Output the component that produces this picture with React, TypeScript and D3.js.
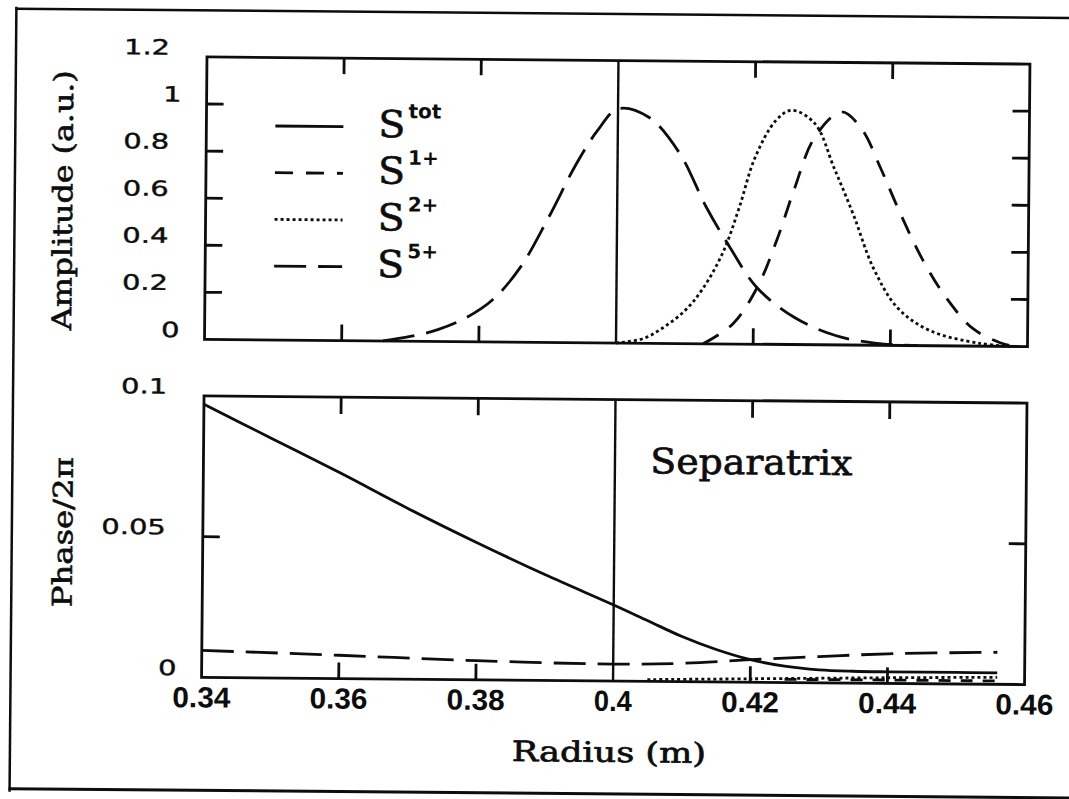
import React from 'react';
import * as d3 from 'd3';

// ---------- data ----------
const radiusTicks = [0.34, 0.36, 0.38, 0.4, 0.42, 0.44, 0.46];
const radiusTickLabels = ['0.34', '0.36', '0.38', '0.4', '0.42', '0.44', '0.46'];
const innerRadiusTicks = [0.36, 0.38, 0.42, 0.44];
const ampTicks = [0, 0.2, 0.4, 0.6, 0.8, 1, 1.2];
const ampTickLabels = ['0', '0.2', '0.4', '0.6', '0.8', '1', '1.2'];
const ampInnerTicks = [0.2, 0.4, 0.6, 0.8, 1];
const phaseTicks = [0, 0.05, 0.1];
const phaseTickLabels = ['0', '0.05', '0.1'];
const phaseInnerTicks = [0.05];
const separatrixRadius = 0.4;

// Amplitude (a.u.)
const s5AmpR = [0.366, 0.37, 0.374, 0.378, 0.382, 0.386, 0.39, 0.394, 0.397, 0.4, 0.4045, 0.409, 0.413, 0.4165, 0.4205, 0.426, 0.432, 0.438, 0.444];
const s5AmpV = [0, 0.02, 0.05, 0.1, 0.18, 0.32, 0.53, 0.76, 0.9, 0.995, 0.96, 0.81, 0.58, 0.41, 0.24, 0.115, 0.04, 0.008, 0];
const s2AmpR = [0.4, 0.404, 0.407, 0.41, 0.4125, 0.4155, 0.4178, 0.42, 0.423, 0.4253, 0.4287, 0.4316, 0.4345, 0.4374, 0.441, 0.4457, 0.453, 0.458];
const s2AmpV = [0, 0.02, 0.07, 0.14, 0.23, 0.39, 0.58, 0.79, 0.95, 0.995, 0.94, 0.75, 0.55, 0.33, 0.16, 0.065, 0.012, 0];
const s1AmpR = [0.4127, 0.417, 0.4205, 0.4234, 0.4258, 0.4287, 0.4326, 0.4355, 0.4384, 0.4413, 0.4447, 0.4482, 0.452, 0.456, 0.458];
const s1AmpV = [0, 0.085, 0.24, 0.45, 0.66, 0.88, 0.99, 0.92, 0.75, 0.56, 0.36, 0.2, 0.075, 0.015, 0];

// Phase / 2pi
const totPhaseR = [0.34, 0.35, 0.36, 0.37, 0.38, 0.39, 0.4, 0.405, 0.41, 0.415, 0.42, 0.425, 0.43, 0.435, 0.44, 0.45, 0.456];
const totPhaseV = [0.097, 0.085, 0.073, 0.0605, 0.0487, 0.0375, 0.027, 0.0215, 0.016, 0.0115, 0.008, 0.0058, 0.0046, 0.0042, 0.0041, 0.0041, 0.0041];
const s5PhaseR = [0.34, 0.36, 0.38, 0.4, 0.41, 0.42, 0.43, 0.44, 0.456];
const s5PhaseV = [0.0096, 0.0083, 0.0068, 0.006, 0.0065, 0.008, 0.0093, 0.0105, 0.0114];
const s2PhaseR = [0.405, 0.42, 0.44, 0.456];
const s2PhaseV = [0.0006, 0.0012, 0.002, 0.0025];
const s1PhaseR = [0.425, 0.44, 0.456];
const s1PhaseV = [0.0011, 0.0012, 0.0012];

const legendNames = ['tot', '1+', '2+', '5+'];
const legendDash = ['none', '18 13', '3 3', '32 12'];

// ---------- layout ----------
const W = 1069, H = 799;
const X0 = 204, X1 = 1027;
const T0 = 60.5, T1 = 343;
const B0 = 399.5, B1 = 681;
const INK = '#0d0d0d';

const x = d3.scaleLinear().domain([0.34, 0.46]).range([X0, X1]);
const yA = d3.scaleLinear().domain([0, 1.2]).range([T1, T0]);
const yP = d3.scaleLinear().domain([0, 0.1]).range([B1, B0]);

function path(rs: number[], vs: number[], y: d3.ScaleLinear<number, number>) {
  const g = d3.line<number>().x((_, i) => x(rs[i])).y((v) => y(Math.max(v, 0))).curve(d3.curveCatmullRom.alpha(0.5));
  return g(vs) || '';
}

function yLabelWidth(s: string) {
  let w = 0;
  for (const c of s) w += c === '.' ? 9 : 18.5;
  return w;
}

export default function App() {
  const sw = 2.8;
  const tickLen = 17;
  const yLabel = (labels: string[], ticks: number[], y: d3.ScaleLinear<number, number>) =>
    ticks.map((t, i) => {
      const s = labels[i];
      const right = s.includes('.') ? 167 : 179;
      return (
        <text key={'yl' + s + i} x={right} y={y(t) - 2} textAnchor="end"
          fontFamily="'DejaVu Sans', sans-serif" fontSize={21} fill={INK}
          stroke={INK} strokeWidth={0.4}
          textLength={yLabelWidth(s)} lengthAdjust="spacingAndGlyphs">{s}</text>
      );
    });
  const serif = "'DejaVu Serif', serif";

  return (
    <div style={{ position: 'absolute', left: 0, top: 0, width: W, height: H, background: '#fff' }}>
      <svg width={W} height={H} style={{ display: 'block' }}>
        <rect x={0} y={0} width={W} height={H} fill="#fff" />
        <g transform="rotate(0.5 616 400)">
          {/* outer frame */}
          <line x1={13} y1={12} x2={13} y2={797} stroke={INK} strokeWidth={2.5} />
          <line x1={12} y1={14} x2={1080} y2={14} stroke={INK} strokeWidth={2.5} />
          <line x1={12} y1={794} x2={1080} y2={794} stroke={INK} strokeWidth={3} />

          {/* ----- top panel ----- */}
          <rect x={X0} y={T0} width={X1 - X0} height={T1 - T0} fill="none" stroke={INK} strokeWidth={sw} />
          {ampInnerTicks.map((t) => (
            <g key={'at' + t}>
              <line x1={X0} x2={X0 + tickLen} y1={yA(t)} y2={yA(t)} stroke={INK} strokeWidth={sw} />
              <line x1={X1 - tickLen} x2={X1} y1={yA(t)} y2={yA(t)} stroke={INK} strokeWidth={sw} />
            </g>
          ))}
          {innerRadiusTicks.map((t) => (
            <g key={'rt' + t}>
              <line x1={x(t)} x2={x(t)} y1={T0} y2={T0 + 16} stroke={INK} strokeWidth={sw} />
              <line x1={x(t)} x2={x(t)} y1={T1} y2={T1 - 16} stroke={INK} strokeWidth={sw} />
            </g>
          ))}
          <line x1={x(separatrixRadius)} x2={x(separatrixRadius)} y1={T0} y2={T1} stroke={INK} strokeWidth={2.4} />
          {yLabel(ampTickLabels, ampTicks, yA)}

          <path d={path(s5AmpR, s5AmpV, yA)} fill="none" stroke={INK} strokeWidth={sw} strokeDasharray={legendDash[3]} />
          <path d={path(s2AmpR, s2AmpV, yA)} fill="none" stroke={INK} strokeWidth={sw} strokeDasharray={legendDash[2]} />
          <path d={path(s1AmpR, s1AmpV, yA)} fill="none" stroke={INK} strokeWidth={sw} strokeDasharray={legendDash[1]} />

          {/* legend */}
          {legendNames.map((n, i) => {
            const base = 139 + i * 46.7;
            return (
              <g key={'lg' + n}>
                <line x1={273} x2={341} y1={base - 10} y2={base - 10} stroke={INK} strokeWidth={sw}
                  strokeDasharray={legendDash[i] === 'none' ? undefined : legendDash[i]} />
                <text x={376} y={base} fontFamily={serif} fontSize={37} fill={INK}
                  stroke={INK} strokeWidth={0.6}
                  textLength={27} lengthAdjust="spacingAndGlyphs">S</text>
                <text x={406} y={base - 19} fontFamily="'DejaVu Sans', sans-serif" fontWeight="bold" fontSize={20} fill={INK}>{n}</text>
              </g>
            );
          })}

          <text transform="translate(61,205) rotate(-90)" textAnchor="middle"
            fontFamily={serif} fontSize={27} fill={INK} stroke={INK} strokeWidth={0.6} dy="0.35em"
            textLength={260} lengthAdjust="spacingAndGlyphs">Amplitude (a.u.)</text>

          {/* ----- bottom panel ----- */}
          <rect x={X0} y={B0} width={X1 - X0} height={B1 - B0} fill="none" stroke={INK} strokeWidth={sw} />
          {phaseInnerTicks.map((t) => (
            <g key={'pt' + t}>
              <line x1={X0} x2={X0 + tickLen} y1={yP(t)} y2={yP(t)} stroke={INK} strokeWidth={sw} />
              <line x1={X1 - tickLen} x2={X1} y1={yP(t)} y2={yP(t)} stroke={INK} strokeWidth={sw} />
            </g>
          ))}
          {innerRadiusTicks.map((t) => (
            <g key={'rb' + t}>
              <line x1={x(t)} x2={x(t)} y1={B0} y2={B0 + 17} stroke={INK} strokeWidth={sw} />
              <line x1={x(t)} x2={x(t)} y1={B1} y2={B1 - 16} stroke={INK} strokeWidth={sw} />
            </g>
          ))}
          <line x1={x(separatrixRadius)} x2={x(separatrixRadius)} y1={B0} y2={B1} stroke={INK} strokeWidth={2.4} />
          {yLabel(phaseTickLabels, phaseTicks, yP)}

          <path d={path(totPhaseR, totPhaseV, yP)} fill="none" stroke={INK} strokeWidth={sw} />
          <path d={path(s5PhaseR, s5PhaseV, yP)} fill="none" stroke={INK} strokeWidth={sw} strokeDasharray={legendDash[3]} />
          <path d={path(s2PhaseR, s2PhaseV, yP)} fill="none" stroke={INK} strokeWidth={sw} strokeDasharray={legendDash[2]} />
          <path d={path(s1PhaseR, s1PhaseV, yP)} fill="none" stroke={INK} strokeWidth={sw} strokeDasharray="12 10" />

          <text x={752} y={473} textAnchor="middle" fontFamily={serif} fontSize={35} fill={INK} stroke={INK} strokeWidth={0.7}
            textLength={202} lengthAdjust="spacingAndGlyphs">Separatrix</text>

          <text transform="translate(64,537) rotate(-90)" textAnchor="middle"
            fontFamily={serif} fontSize={27} fill={INK} stroke={INK} strokeWidth={0.6} dy="0.35em"
            textLength={150} lengthAdjust="spacingAndGlyphs">Phase/2π</text>

          {/* x axis labels */}
          {radiusTicks.map((t, i) => (
            <text key={'xl' + t} x={x(t)} y={711} textAnchor="middle"
              fontFamily="'Liberation Sans Narrow', 'Liberation Sans', sans-serif" fontWeight="bold" fontSize={29} fill={INK}
              textLength={radiusTickLabels[i].length === 3 ? 38 : 58} lengthAdjust="spacingAndGlyphs">{radiusTickLabels[i]}</text>
          ))}
          <text x={612} y={762} textAnchor="middle" fontFamily={serif} fontSize={28} fill={INK} stroke={INK} strokeWidth={0.7}
            textLength={194} lengthAdjust="spacingAndGlyphs">Radius (m)</text>
        </g>
      </svg>
    </div>
  );
}
